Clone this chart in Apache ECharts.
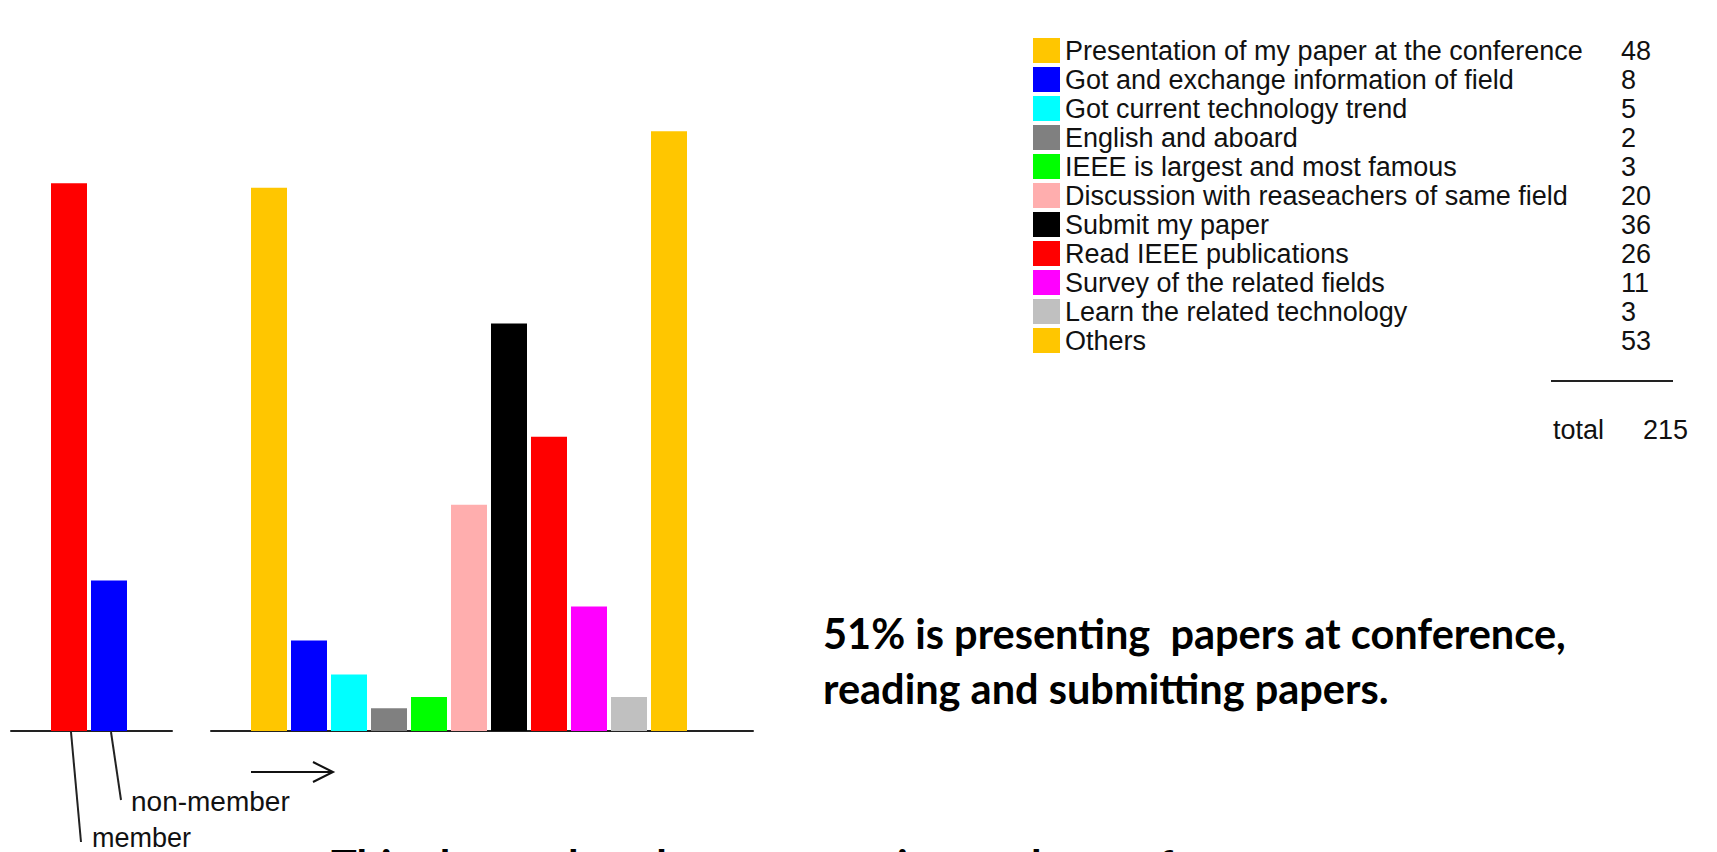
<!DOCTYPE html>
<html>
<head>
<meta charset="utf-8">
<script src="https://cdn.jsdelivr.net/npm/echarts@6/dist/echarts.min.js"></script>
<style>
html,body{margin:0;padding:0;background:#fff;}
#c{width:1717px;height:852px;}
</style>
</head>
<body>
<div id="c"></div>
<script>
// ---- data ----
const memberCategories = ['member', 'non-member'];
const memberValues = [48.4, 13.3];
const memberColors = ['#FF0000', '#0000FF'];

const reasons = [
  'Presentation of my paper at the conference',
  'Got and exchange information of field',
  'Got current technology trend',
  'English and aboard',
  'IEEE is largest and most famous',
  'Discussion with reaseachers of same field',
  'Submit my paper',
  'Read IEEE publications',
  'Survey of the related fields',
  'Learn the related technology',
  'Others'
];
const reasonCounts = [48, 8, 5, 2, 3, 20, 36, 26, 11, 3, 53];
const reasonColors = ['#FFC600', '#0000FF', '#00FFFF', '#808080', '#00FF00', '#FFAEAE', '#000000', '#FF0000', '#FF00FF', '#C0C0C0', '#FFC600'];
const totalLabel = 'total';
const totalValue = 215;
const noteLines = ['51% is presenting  papers at conference,', 'reading and submitting papers.'];
const bottomNote = 'This shows that the presentation at the conference';

// ---- chart ----
const chart = echarts.init(document.getElementById('c'), null, {renderer: 'svg'});
const countByName = {};
reasons.forEach((r, i) => countByName[r] = reasonCounts[i]);

const axisCommon = {
  type: 'value',
  axisLine: {show: true, onZero: false, lineStyle: {color: '#222', width: 2}},
  axisTick: {show: false},
  axisLabel: {show: false},
  splitLine: {show: false}
};
const yCommon = {type: 'value', min: 0, max: 60, show: false, splitLine: {show: false}};

const series = [];
series.push({
  type: 'bar', name: 'membership', xAxisIndex: 0, yAxisIndex: 0,
  barWidth: 36, silent: true,
  data: memberValues.map((v, i) => ({value: [i, v], itemStyle: {color: memberColors[i]}}))
});
reasons.forEach((r, i) => {
  series.push({
    type: 'bar', name: r, xAxisIndex: 1, yAxisIndex: 1,
    barWidth: 36, barGap: '-100%', silent: true,
    itemStyle: {color: reasonColors[i]},
    data: [[i, reasonCounts[i]]]
  });
});

const txt = '#111';
const option = {
  animation: false,
  backgroundColor: '#fff',
  grid: [
    {left: 11, width: 161, top: 52, bottom: 121},
    {left: 211, width: 542, top: 52, bottom: 121}
  ],
  xAxis: [
    Object.assign({}, axisCommon, {gridIndex: 0, min: -1.45, max: 2.575}),
    Object.assign({}, axisCommon, {gridIndex: 1, min: -1.45, max: 12.1})
  ],
  yAxis: [
    Object.assign({}, yCommon, {gridIndex: 0}),
    Object.assign({}, yCommon, {gridIndex: 1})
  ],
  legend: {
    data: reasons,
    orient: 'vertical',
    left: 1033, top: 37,
    padding: 0,
    icon: 'rect',
    itemWidth: 27, itemHeight: 25, itemGap: 2, itemTextGap: 13,
    selectedMode: false,
    formatter: name => '{n|' + name + '}{v|' + countByName[name] + '}',
    textStyle: {
      fontFamily: 'Liberation Sans', fontSize: 27, color: txt, lineHeight: 25,
      rich: {
        n: {width: 556, fontFamily: 'Liberation Sans', fontSize: 27, color: txt, lineHeight: 25},
        v: {fontFamily: 'Liberation Sans', fontSize: 27, color: txt, lineHeight: 25}
      }
    }
  },
  graphic: [
    // total rule + total
    {type: 'line', shape: {x1: 1551, y1: 381, x2: 1673, y2: 381}, style: {stroke: '#222', lineWidth: 2}, silent: true},
    {type: 'text', x: 1553, y: 430, style: {text: totalLabel, font: '27px "Liberation Sans"', fill: txt, verticalAlign: 'middle'}},
    {type: 'text', x: 1643, y: 430, style: {text: String(totalValue), font: '27px "Liberation Sans"', fill: txt, verticalAlign: 'middle'}},
    // leader lines and labels
    {type: 'line', shape: {x1: 71, y1: 732, x2: 81, y2: 842}, style: {stroke: '#222', lineWidth: 2}, silent: true},
    {type: 'line', shape: {x1: 111, y1: 732, x2: 121, y2: 800}, style: {stroke: '#222', lineWidth: 2}, silent: true},
    {type: 'text', x: 131, y: 801, style: {text: memberCategories[1], font: '28px "Liberation Sans"', fill: txt, verticalAlign: 'middle'}},
    {type: 'text', x: 92, y: 838, style: {text: memberCategories[0], font: '27px "Liberation Sans"', fill: txt, verticalAlign: 'middle'}},
    // arrow
    {type: 'polyline', shape: {points: [[251, 772], [333, 772]]}, style: {stroke: '#111', lineWidth: 2}, silent: true},
    {type: 'polyline', shape: {points: [[313, 762], [333, 772], [313, 782]]}, style: {stroke: '#111', lineWidth: 2, fill: null}, silent: true},
    // notes
    {type: 'text', x: 823, y: 633, style: {text: noteLines[0], font: 'bold 41.5px Lato', fill: '#000', verticalAlign: 'middle'}},
    {type: 'text', x: 823, y: 688, style: {text: noteLines[1], font: 'bold 41.5px Lato', fill: '#000', verticalAlign: 'middle'}},
    {type: 'text', x: 331, y: 865, style: {text: bottomNote, font: 'bold 43px Lato', fill: '#000', verticalAlign: 'middle'}}
  ],
  series: series
};
chart.setOption(option);
</script>
</body>
</html>
